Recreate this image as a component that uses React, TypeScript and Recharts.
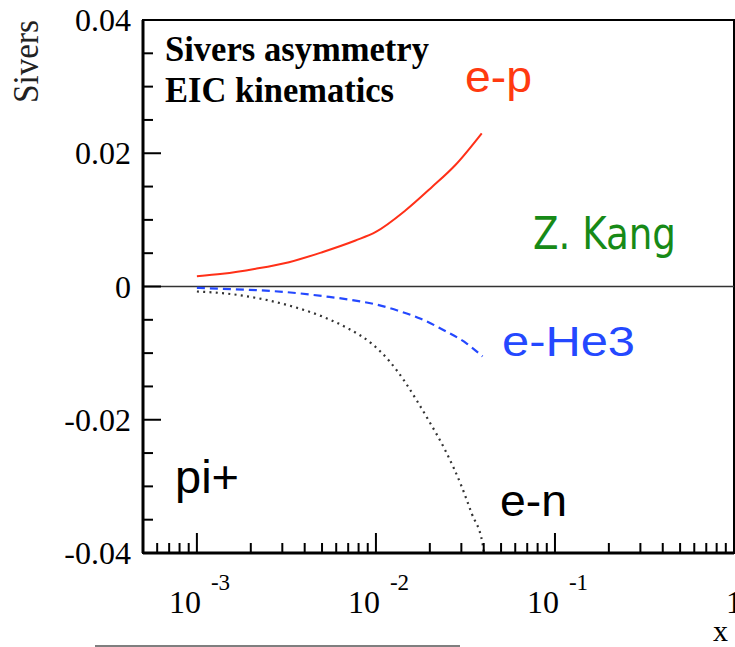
import React from "react";
import { LineChart, Line, XAxis, YAxis, ReferenceLine, ReferenceArea } from "recharts";

// ---- data ----
const EP_X = [0.001, 0.00139, 0.00213, 0.00327, 0.00501, 0.00769, 0.00993, 0.0146, 0.0205, 0.0277, 0.039];
const EP_Y = [0.00155, 0.0019, 0.00266, 0.00365, 0.00515, 0.0069, 0.00815, 0.0114, 0.0149, 0.0182, 0.023];

const EHE3_X = [0.001, 0.00139, 0.00196, 0.00321, 0.00526, 0.00724, 0.00986, 0.0132, 0.0178, 0.0241, 0.0319, 0.0394];
const EHE3_Y = [-0.0002, -0.00035, -0.0005, -0.00086, -0.0015, -0.002, -0.00266, -0.0036, -0.00485, -0.0066, -0.0085, -0.0105];

const EN_X = [0.001, 0.00139, 0.00213, 0.00327, 0.00501, 0.00705, 0.0095, 0.0118, 0.0146, 0.0169, 0.0197, 0.0244, 0.0302, 0.0343, 0.0394, 0.0402];
const EN_Y = [-0.00075, -0.001, -0.0017, -0.00285, -0.0045, -0.00635, -0.0086, -0.0111, -0.0144, -0.0171, -0.0201, -0.0246, -0.0301, -0.0341, -0.0386, -0.0402];

const X_TICKS = [
  0.0006, 0.0007, 0.0008, 0.0009,
  0.001, 0.002, 0.003, 0.004, 0.005, 0.006, 0.007, 0.008, 0.009,
  0.01, 0.02, 0.03, 0.04, 0.05, 0.06, 0.07, 0.08, 0.09,
  0.1, 0.2, 0.3, 0.4, 0.5, 0.6, 0.7, 0.8, 0.9,
  1,
];
const X_MAJOR = [0.001, 0.01, 0.1, 1];
const X_EXP = ["-3", "-2", "-1", ""];

const Y_TICKS = [
  -0.04, -0.035, -0.03, -0.025, -0.02, -0.015, -0.01, -0.005,
  0, 0.005, 0.01, 0.015, 0.02, 0.025, 0.03, 0.035, 0.04,
];
const Y_MAJOR = [-0.04, -0.02, 0, 0.02, 0.04];
const Y_LABELS = ["-0.04", "-0.02", "0", "0.02", "0.04"];

const toPts = (xs: number[], ys: number[]) => xs.map((x, i) => ({ x, y: ys[i] }));
const epData = toPts(EP_X, EP_Y);
const ehe3Data = toPts(EHE3_X, EHE3_Y);
const enData = toPts(EN_X, EN_Y);

const SERIF = "'Liberation Serif', 'Times New Roman', serif";
const SANS = "'Liberation Sans', Arial, sans-serif";

const XTick = (props: any) => {
  const { x, y, payload } = props;
  const v = payload.value;
  const idx = X_MAJOR.indexOf(v);
  const major = idx >= 0;
  return (
    <g>
      <line x1={x} x2={x} y1={y} y2={y - (major ? 20 : 10)} stroke="#000" strokeWidth={2} />
      {major && X_EXP[idx] !== "" && (
        <g fontFamily={SERIF} fill="#000">
          <text x={x + 4} y={y + 60} textAnchor="end" fontSize={32}>10</text>
          <text x={x + 14} y={y + 37} textAnchor="start" fontSize={23}>{X_EXP[idx]}</text>
        </g>
      )}
      {major && X_EXP[idx] === "" && (
        <text x={x} y={y + 60} textAnchor="middle" fontSize={32} fontFamily={SERIF} fill="#000">1</text>
      )}
    </g>
  );
};

const YTick = (props: any) => {
  const { x, y, payload } = props;
  const v = payload.value;
  const idx = Y_MAJOR.findIndex((m) => Math.abs(m - v) < 1e-9);
  const major = idx >= 0;
  return (
    <g>
      <line x1={x} x2={x + (major ? 18 : 10)} y1={y} y2={y} stroke="#000" strokeWidth={2} />
      {major && (
        <text x={x - 12} y={y + 11} textAnchor="end" fontSize={32} fontFamily={SERIF} fill="#000">
          {Y_LABELS[idx]}
        </text>
      )}
    </g>
  );
};

export default function App() {
  return (
    <div style={{ position: "absolute", left: 0, top: 0, width: 735, height: 647, background: "#fff", overflow: "hidden" }}>
      <LineChart width={735} height={647} data={epData} margin={{ top: 20, right: 1, bottom: 0, left: 0 }}>
        <XAxis
          dataKey="x"
          type="number"
          scale="log"
          domain={[0.0005, 1]}
          allowDataOverflow
          ticks={X_TICKS}
          interval={0}
          tick={<XTick />}
          tickLine={false}
          tickSize={0}
          tickMargin={0}
          height={94}
          axisLine={{ stroke: "#000", strokeWidth: 3 }}
        />
        <YAxis
          type="number"
          domain={[-0.04, 0.04]}
          allowDataOverflow
          ticks={Y_TICKS}
          interval={0}
          tick={<YTick />}
          tickLine={false}
          tickSize={0}
          tickMargin={0}
          width={143}
          axisLine={{ stroke: "#000", strokeWidth: 3 }}
        />
        <ReferenceArea x1={0.0005} x2={1} y1={-0.04} y2={0.04} fill="none" stroke="#000" strokeWidth={2} />
        <ReferenceLine y={0} stroke="#333" strokeWidth={1.5} />
        <Line data={epData} dataKey="y" type="monotone" stroke="#ff3018" strokeWidth={2} dot={false} isAnimationActive={false} />
        <Line data={ehe3Data} dataKey="y" type="monotone" stroke="#2448ff" strokeWidth={2.2} strokeDasharray="8 5" dot={false} isAnimationActive={false} />
        <Line data={enData} dataKey="y" type="monotone" stroke="#333" strokeWidth={2.2} strokeDasharray="2 4.3" dot={false} isAnimationActive={false} />
      </LineChart>
      <svg width={735} height={647} style={{ position: "absolute", left: 0, top: 0, pointerEvents: "none" }}>
        <text transform="translate(38,20) rotate(-90)" textAnchor="end" fontFamily={SERIF} fontSize={36} textLength={83} lengthAdjust="spacingAndGlyphs" fill="#222">Sivers</text>
        <text x={165} y={61} fontFamily={SERIF} fontWeight="bold" fontSize={35} textLength={264} lengthAdjust="spacingAndGlyphs" fill="#000">Sivers asymmetry</text>
        <text x={165} y={102} fontFamily={SERIF} fontWeight="bold" fontSize={35} textLength={229} lengthAdjust="spacingAndGlyphs" fill="#000">EIC kinematics</text>
        <text x={465} y={92} fontFamily={SANS} fontSize={44} textLength={67} lengthAdjust="spacingAndGlyphs" fill="#ff3a10">e-p</text>
        <text x={533} y={249} fontFamily="'DejaVu Sans', sans-serif" fontSize={44} textLength={143} lengthAdjust="spacingAndGlyphs" fill="#178a17">Z. Kang</text>
        <text x={502} y={356} fontFamily={SANS} fontSize={42} textLength={133} lengthAdjust="spacingAndGlyphs" fill="#2448ff">e-He3</text>
        <text x={500} y={516} fontFamily={SANS} fontSize={45} textLength={67} lengthAdjust="spacingAndGlyphs" fill="#000">e-n</text>
        <text x={175} y={493} fontFamily={SANS} fontSize={46} textLength={64} lengthAdjust="spacingAndGlyphs" fill="#000">pi+</text>
        <text x={713} y={641} fontFamily={SERIF} fontSize={30} fill="#000">x</text>
        <line x1={95} x2={460} y1={646} y2={646} stroke="#555" strokeWidth={1.5} />
      </svg>
    </div>
  );
}
